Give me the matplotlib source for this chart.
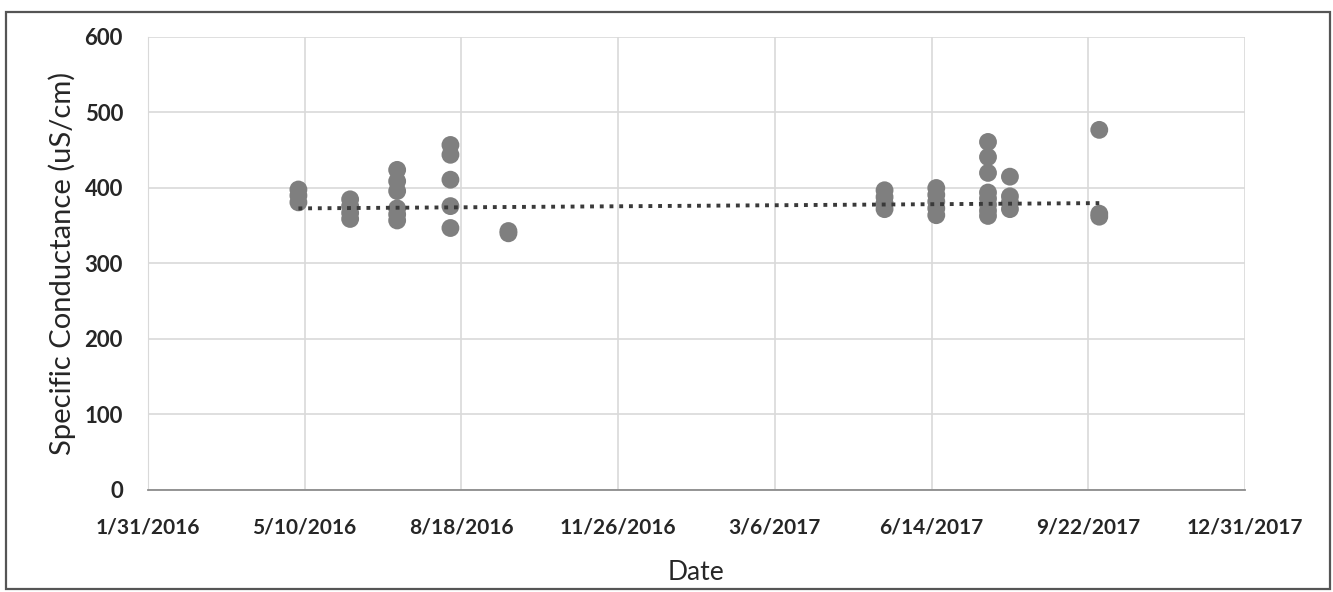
import matplotlib
matplotlib.use("Agg")
import matplotlib.pyplot as plt
import matplotlib.dates as mdates
from matplotlib.patches import Rectangle
from matplotlib.ticker import FuncFormatter, FixedLocator
import numpy as np
import datetime as dt

# ---- data ----
sample_dates = ["2016-05-06", "2016-06-08", "2016-07-08", "2016-08-11", "2016-09-17",
                "2017-05-15", "2017-06-17", "2017-07-20", "2017-08-03", "2017-09-29"]
sample_values = [
    [398, 390, 381],
    [385, 376, 367, 359],
    [424, 409, 396, 373, 365, 357],
    [457, 444, 411, 376, 347],
    [343, 340],
    [397, 388, 380, 372],
    [400, 391, 382, 373, 364],
    [461, 441, 420, 394, 386, 378, 370, 363],
    [415, 389, 381, 372],
    [477, 366, 362],
]
# linear trendline as drawn in the chart (value at first and last sample date)
trend_dates = ["2016-05-06", "2017-09-29"]
trend_values = [373, 380]

x_tick_dates = ["2016-01-31", "2016-05-10", "2016-08-18", "2016-11-26",
                "2017-03-06", "2017-06-14", "2017-09-22", "2017-12-31"]
y_ticks = [0, 100, 200, 300, 400, 500, 600]

# ---- build arrays ----
def to_num(d):
    return mdates.date2num(dt.date.fromisoformat(d))

xs, ys = [], []
for d, vals in zip(sample_dates, sample_values):
    for v in vals:
        xs.append(to_num(d))
        ys.append(v)

plt.rcParams['font.family'] = ['Lato', 'DejaVu Sans']

fig = plt.figure(figsize=(13.33, 5.92), dpi=100)
ax = fig.add_axes([0.111, 0.1723, 0.823, 0.7652])

# outer border
fig.patches.append(Rectangle((6 / 1333, 3 / 592), 1324 / 1333, 577 / 592,
                             transform=fig.transFigure, fill=False,
                             edgecolor="#555555", linewidth=1.6))

ax.scatter(xs, ys, s=165, color="#7f7f7f", edgecolors="none", zorder=3)

ax.plot([to_num(d) for d in trend_dates], trend_values,
        linestyle=(0, (1, 1.5)), color="#3a3a3a", linewidth=2.8, zorder=4)

xt = [to_num(d) for d in x_tick_dates]
ax.set_xlim(xt[0], xt[-1])
ax.set_ylim(0, 600)
ax.xaxis.set_major_locator(FixedLocator(xt))
ax.xaxis.set_major_formatter(FuncFormatter(
    lambda v, p: (lambda d: f"{d.month}/{d.day}/{d.year}")(mdates.num2date(v))))
ax.set_yticks(y_ticks)

ax.grid(True, color="#d9d9d9", linewidth=1.2)
ax.set_axisbelow(True)
for s in ["top", "right"]:
    ax.spines[s].set_visible(False)
ax.spines["left"].set_color("#d9d9d9")
ax.spines["bottom"].set_color("#8c8c8c")
ax.spines["bottom"].set_linewidth(1.3)
ax.tick_params(axis="both", length=0, colors="#262626")
ax.tick_params(axis="x", pad=20, labelsize=15)
ax.tick_params(axis="y", pad=18, labelsize=16)
for lab in ax.get_xticklabels() + ax.get_yticklabels():
    lab.set_fontweight("bold")

ax.set_xlabel("Date", fontsize=19, color="#262626", labelpad=16)
ax.set_ylabel("Specific Conductance (uS/cm)", fontsize=21, color="#262626", labelpad=6)

fig.savefig("out.png", dpi=100)
